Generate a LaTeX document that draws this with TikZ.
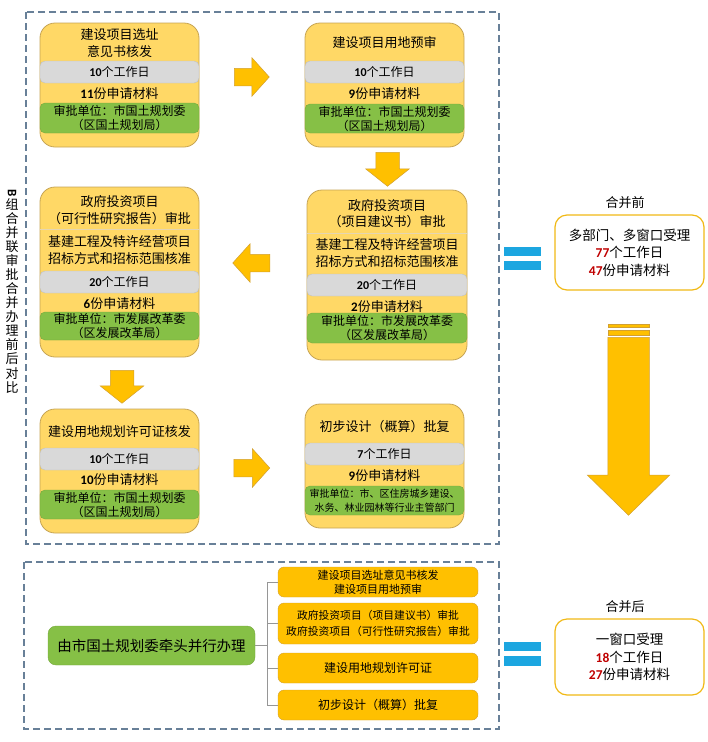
\documentclass[tikz,border=0pt]{standalone}
\usepackage{fontspec}
\setmainfont{Noto Sans CJK SC}
\newfontfamily\numfont{Carlito}
\usepackage{tikz}
\usetikzlibrary{shapes.arrows, positioning, calc}

\definecolor{cardfill}{RGB}{255,216,102}
\definecolor{cardline}{RGB}{198,164,84}
\definecolor{dayfill}{RGB}{217,217,217}
\definecolor{dayline}{RGB}{192,192,192}
\definecolor{unitfill}{RGB}{134,192,70}
\definecolor{unitline}{RGB}{118,168,62}
\definecolor{arrowfill}{RGB}{255,192,0}
\definecolor{arrowline}{RGB}{210,160,50}
\definecolor{frameline}{RGB}{104,128,152}
\definecolor{eqblue}{RGB}{28,166,224}
\definecolor{numred}{RGB}{192,0,0}
\definecolor{treeline}{RGB}{150,150,150}

\newcommand\nb[1]{{\numfont\bfseries #1}}
\newcommand\nr[1]{{\numfont\bfseries\color{numred}#1}}

\tikzset{
  card/.style={draw=cardline, fill=cardfill, rounded corners=15pt, line width=0.8pt, inner sep=0pt},
  dayband/.style={draw=dayline, fill=dayfill, rounded corners=5pt, inner sep=0pt, font=\fontsize{12}{14}\selectfont},
  unitband/.style={draw=unitline, fill=unitfill, rounded corners=5pt, inner sep=0pt, align=center, font=\fontsize{12}{14}\selectfont},
  cardtext/.style={inner sep=0pt, align=center, font=\fontsize{13}{17}\selectfont},
  sepline/.style={draw=cardline!45, line width=0.5pt},
  blockarrow/.style={single arrow, draw=arrowline, fill=arrowfill, line width=0.5pt, anchor=tail},
  frame/.style={draw=frameline, line width=1.1pt, dash pattern=on 7pt off 4pt},
  eqbar/.style={fill=eqblue},
  sumbox/.style={draw=arrowfill!75!cardline, line width=1.2pt, rounded corners=12pt, fill=white, align=center, inner sep=0pt, font=\fontsize{13.5}{17.5}\selectfont},
  sumlabel/.style={inner sep=0pt, font=\fontsize{13}{15}\selectfont},
  leadbox/.style={draw=unitline, fill=unitfill, rounded corners=8pt, inner sep=0pt, font=\fontsize{14.5}{17}\selectfont},
  stepbox/.style={draw=arrowline, fill=arrowfill, rounded corners=6pt, align=center, inner sep=0pt, minimum width=200pt, font=\fontsize{11}{14}\selectfont},
  branch/.style={draw=treeline, line width=0.6pt},
  sidetext/.style={inner sep=0pt, align=center, font=\fontsize{13}{14.07}\selectfont}
}

\begin{document}
\begin{tikzpicture}[x=1pt, y=-1pt]
\useasboundingbox (0,0) rectangle (708,742);

% dashed frames
\draw[frame] (26,12) rectangle (499,544);
\draw[frame] (24,562) rectangle (499,729);

% side caption
\node[sidetext] (side) at (12,291.5) {\rotatebox{-90}{\nb{B}}\\组\\合\\并\\联\\审\\批\\合\\并\\办\\理\\前\\后\\对\\比};

% card 1
\node[card, minimum width=159, minimum height=124] (c1) at (119.5,85) {};
\node[cardtext] (c1t) at (c1 |- 0,43.5) {建设项目选址\\意见书核发};
\node[dayband, minimum width=159, minimum height=22] (c1d) at (c1 |- 0,72) {\nb{10}个工作日};
\node[cardtext] (c1m) at (c1 |- 0,94) {\nb{11}份申请材料};
\node[unitband, minimum width=159, minimum height=30] (c1u) at (c1 |- 0,118) {审批单位：市国土规划委\\（区国土规划局）};

% card 2
\node[card, minimum width=159, minimum height=124] (c2) at (384.5,85) {};
\node[cardtext] (c2t) at (c2 |- 0,43) {建设项目用地预审};
\node[dayband, minimum width=159, minimum height=22] (c2d) at (c2 |- 0,72) {\nb{10}个工作日};
\node[cardtext] (c2m) at (c2 |- 0,94) {\nb{9}份申请材料};
\node[unitband, minimum width=159, minimum height=29] (c2u) at (c2 |- 0,118.5) {审批单位：市国土规划委\\（区国土规划局）};

% card 3
\node[card, minimum width=159, minimum height=170] (c3) at (119.5,272) {};
\node[cardtext, font=\fontsize{13}{16.5}\selectfont] (c3t) at (c3 |- 0,210) {政府投资项目\\（可行性研究报告）审批};
\draw[sepline] (c3.west |- 0,229) -- (c3.east |- 0,229);
\node[cardtext] (c3b) at (c3 |- 0,250.5) {基建工程及特许经营项目\\招标方式和招标范围核准};
\node[dayband, minimum width=159, minimum height=22] (c3d) at (c3 |- 0,282) {\nb{20}个工作日};
\node[cardtext] (c3m) at (c3 |- 0,304) {\nb{6}份申请材料};
\node[unitband, minimum width=159, minimum height=28] (c3u) at (c3 |- 0,326) {审批单位：市发展改革委\\（区发展改革局）};

% card 4
\node[card, minimum width=160, minimum height=170] (c4) at (387,275) {};
\node[cardtext, font=\fontsize{13}{16.5}\selectfont] (c4t) at (c4 |- 0,213.5) {政府投资项目\\（项目建议书）审批};
\draw[sepline] (c4.west |- 0,233) -- (c4.east |- 0,233);
\node[cardtext] (c4b) at (c4 |- 0,253.5) {基建工程及特许经营项目\\招标方式和招标范围核准};
\node[dayband, minimum width=160, minimum height=22] (c4d) at (c4 |- 0,285) {\nb{20}个工作日};
\node[cardtext] (c4m) at (c4 |- 0,307) {\nb{2}份申请材料};
\node[unitband, minimum width=160, minimum height=30] (c4u) at (c4 |- 0,328) {审批单位：市发展改革委\\（区发展改革局）};

% card 5
\node[card, minimum width=159, minimum height=124] (c5) at (119.5,471) {};
\node[cardtext] (c5t) at (c5 |- 0,432) {建设用地规划许可证核发};
\node[dayband, minimum width=159, minimum height=22] (c5d) at (c5 |- 0,459) {\nb{10}个工作日};
\node[cardtext] (c5m) at (c5 |- 0,480) {\nb{10}份申请材料};
\node[unitband, minimum width=159, minimum height=29] (c5u) at (c5 |- 0,504.5) {审批单位：市国土规划委\\（区国土规划局）};

% card 6
\node[card, minimum width=159, minimum height=124] (c6) at (384.5,466) {};
\node[cardtext] (c6t) at (c6 |- 0,427) {初步设计（概算）批复};
\node[dayband, minimum width=159, minimum height=22] (c6d) at (c6 |- 0,454) {\nb{7}个工作日};
\node[cardtext] (c6m) at (c6 |- 0,476) {\nb{9}份申请材料};
\node[unitband, minimum width=159, minimum height=29, font=\fontsize{10}{14}\selectfont] (c6u) at (c6 |- 0,500.5) {审批单位：市、区住房城乡建设、\\水务、林业园林等行业主管部门};

% block arrows between cards
\node[blockarrow, inner sep=8.5, minimum height=35, single arrow head extend=10.5, single arrow tip angle=96] (a12) at (234,77) {};
\node[blockarrow, inner sep=11.5, minimum height=34, single arrow head extend=10, single arrow tip angle=103, shape border rotate=270] (a24) at (387.5,152) {};
\node[blockarrow, inner sep=8.5, minimum height=37, single arrow head extend=10.5, single arrow tip angle=96, shape border rotate=180] (a43) at (270,263) {};
\node[blockarrow, inner sep=11.5, minimum height=33, single arrow head extend=10, single arrow tip angle=103, shape border rotate=270] (a35) at (122,370) {};
\node[blockarrow, inner sep=8.5, minimum height=36, single arrow head extend=10.5, single arrow tip angle=96] (a56) at (233.5,468) {};

% equals signs
\fill[eqbar] (504,247) rectangle (541,256);
\fill[eqbar] (504,261) rectangle (541,270);
\fill[eqbar] (504,642) rectangle (541,651);
\fill[eqbar] (504,656) rectangle (541,666);

% before / after
\node[sumlabel] (prel) at (625,203) {合并前};
\node[sumbox, minimum width=149, minimum height=75] (pre) at (629.5,252.5) {多部门、多窗口受理\\\nr{77}个工作日\\\nr{47}份申请材料};
\node[sumlabel] (postl) at (625,607) {合并后};
\node[sumbox, minimum width=149, minimum height=76] (post) at (629.5,657) {一窗口受理\\\nr{18}个工作日\\\nr{27}份申请材料};

% big arrow
\filldraw[fill=arrowfill, draw=arrowline, line width=0.5pt] (608,324) rectangle (649,327);
\filldraw[fill=arrowfill, draw=arrowline, line width=0.5pt] (608,330) rectangle (649,335);
\node[blockarrow, inner sep=20.5, minimum height=178, single arrow head extend=20.5, single arrow tip angle=91.4, shape border rotate=270] (big) at (628.5,337) {};

% merged procedure
\node[leadbox, minimum width=207, minimum height=39] (lead) at (151.5,645.5) {由市国土规划委牵头并行办理};
\node[stepbox, minimum height=30] (s1) at (378,582) {建设项目选址意见书核发\\建设项目用地预审};
\node[stepbox, minimum height=41, font=\fontsize{10.8}{16}\selectfont] (s2) at (378,623.5) {政府投资项目（项目建议书）审批\\政府投资项目（可行性研究报告）审批};
\node[stepbox, minimum height=30, font=\fontsize{12}{14}\selectfont] (s3) at (378,668) {建设用地规划许可证};
\node[stepbox, minimum height=30, font=\fontsize{12}{14}\selectfont] (s4) at (378,705) {初步设计（概算）批复};

\draw[branch] (lead.east) -- ++(12,0) coordinate (hub);
\draw[branch] (hub |- s1.west) -- (hub |- s4.west);
\foreach \s in {s1,s2,s3,s4}
  \draw[branch] (hub |- \s.west) -- (\s.west);
\end{tikzpicture}
\end{document}
